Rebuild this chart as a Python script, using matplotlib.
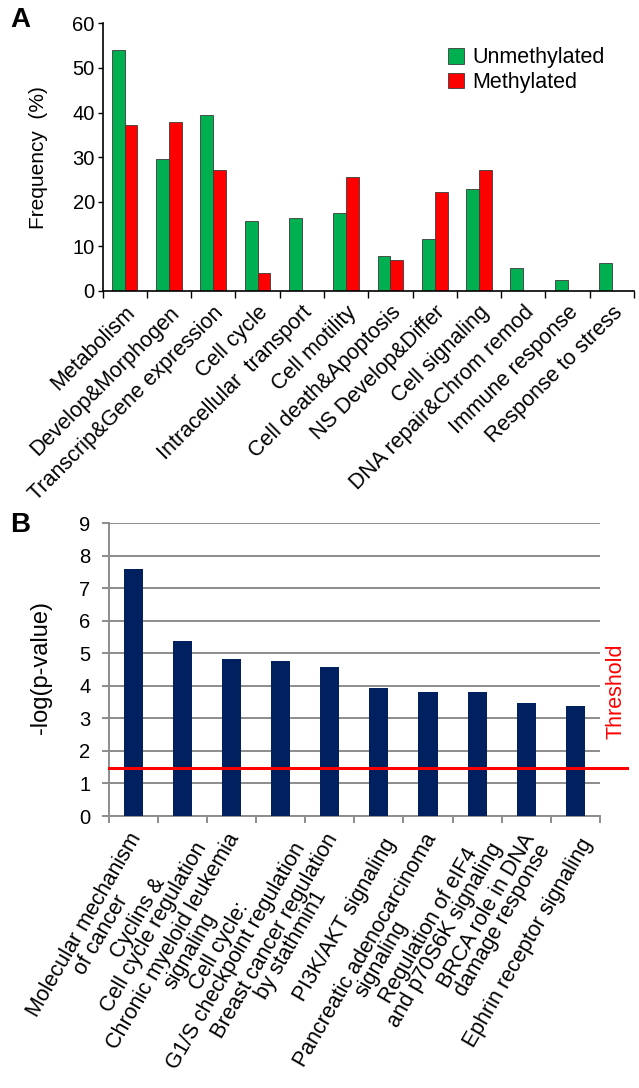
import numpy as np
import matplotlib
matplotlib.use("Agg")
import matplotlib.pyplot as plt
import matplotlib.transforms as mtransforms
from matplotlib.ticker import FixedLocator, NullFormatter

plt.rcParams['font.family'] = ['Liberation Sans', 'DejaVu Sans']

# Panel A data
go_terms = ['Metabolism', 'Develop&Morphogen', 'Transcrip&Gene expression', 'Cell cycle',
            'Intracellular  transport', 'Cell motility', 'Cell death&Apoptosis',
            'NS Develop&Differ', 'Cell signaling', 'DNA repair&Chrom remod',
            'Immune response', 'Response to stress']
unmethylated = [54.0, 29.5, 39.5, 15.8, 16.3, 17.5, 7.8, 11.6, 22.9, 5.2, 2.5, 6.2]
methylated = [37.1, 37.9, 27.1, 4.1, 0, 25.5, 7.0, 22.2, 27.1, 0, 0, 0]

# Panel B data
pathways = ['Molecular mechanism\nof cancer',
            'Cyclins &\nCell cycle regulation',
            'Chronic myeloid leukemia\nsignaling',
            'Cell cycle:\nG1/S checkpoint regulation',
            'Breast cancer regulation\nby stathmin1',
            'PI3K/AKT signaling',
            'Pancreatic adenocarcinoma\nsignaling',
            'Regulation of eIF4\nand p70S6K signaling',
            'BRCA role in DNA\ndamage response',
            'Ephrin receptor signaling']
neg_log_p = [7.61, 5.38, 4.82, 4.76, 4.58, 3.95, 3.81, 3.81, 3.46, 3.37]
threshold = 1.48

W, H = 639, 1088
fig = plt.figure(figsize=(W / 100, H / 100), dpi=100)

# ---------------- Panel A ----------------
axA = fig.add_axes([102.5 / W, 1 - 291 / H, 531.5 / W, 267.7 / H])
n = len(go_terms)
x = np.arange(n) + 0.5
bw = 0.29
green = '#00B050'
red = '#FF0000'
axA.bar(x - bw / 2, unmethylated, bw, color=green, edgecolor='#3a3a3a', linewidth=0.6,
        label='Unmethylated')
axA.bar(x + bw / 2, methylated, bw, color=red, edgecolor='#3a3a3a', linewidth=0.6,
        label='Methylated')
axA.set_xlim(0, n)
axA.set_ylim(0, 60)
axA.set_yticks(range(0, 61, 10))
axA.tick_params(axis='y', labelsize=14.5, length=3.5, width=1, direction='out', pad=2)
axA.xaxis.set_major_locator(FixedLocator(np.arange(n + 1)))
axA.xaxis.set_major_formatter(NullFormatter())
axA.xaxis.set_minor_locator(FixedLocator(x))
axA.set_xticklabels(go_terms, minor=True, rotation=45, ha='right', rotation_mode='anchor',
                    fontsize=15.5)
axA.tick_params(axis='x', which='major', length=5, width=1, direction='out')
axA.tick_params(axis='x', which='minor', length=0, pad=8)
for s in ['top', 'right']:
    axA.spines[s].set_visible(False)
for s in ['left', 'bottom']:
    axA.spines[s].set_linewidth(1.2)
axA.set_ylabel('Frequency  (%)', fontsize=15)
axA.yaxis.set_label_coords(-0.1025, 0.5)
axA.legend(loc='upper left', bbox_to_anchor=(0.650, 0.91), frameon=False, fontsize=15.5,
           handlelength=0.74, handleheight=0.74, handletextpad=0.4, labelspacing=0.16,
           borderpad=0, borderaxespad=0)
fig.text(10 / W, 1 - 20 / H, 'A', fontsize=20, fontweight='bold', va='center', ha='left')

# ---------------- Panel B ----------------
axB = fig.add_axes([108.6 / W, 1 - 816 / H, 491.4 / W, 292.7 / H])
m = len(pathways)
xb = np.arange(m) + 0.5
navy = '#002060'
grid_c = '#8c8c8c'
axB.bar(xb, neg_log_p, 0.39, color=navy, zorder=3)
axB.set_xlim(0, m)
axB.set_ylim(0, 9)
axB.set_yticks(range(0, 10))
axB.yaxis.grid(True, color=grid_c, linewidth=1.4, zorder=0)
axB.set_axisbelow(True)
axB.tick_params(axis='y', labelsize=14.5, length=5, width=1.4, color=grid_c, pad=8)
axB.xaxis.set_major_locator(FixedLocator(np.arange(m + 1)))
axB.xaxis.set_major_formatter(NullFormatter())
axB.xaxis.set_minor_locator(FixedLocator(xb))
axB.set_xticklabels(pathways, minor=True, rotation=60, ha='right', va='center',
                    rotation_mode='anchor', fontsize=15.5, multialignment='center',
                    linespacing=0.88)
axB.tick_params(axis='x', which='major', length=5, width=1.4, color=grid_c)
axB.tick_params(axis='x', which='minor', length=0, pad=17)
# nudge the rotated pathway labels to the right, like the Excel layout
shift = mtransforms.ScaledTranslation(12 / 100, 0, fig.dpi_scale_trans)
for lbl in axB.get_xticklabels(minor=True):
    lbl.set_transform(lbl.get_transform() + shift)
for s in ['top', 'right']:
    axB.spines[s].set_visible(False)
for s in ['left', 'bottom']:
    axB.spines[s].set_color(grid_c)
    axB.spines[s].set_linewidth(1.4)
axB.plot([0, 10.54], [threshold, threshold], color=red, linewidth=2.2, clip_on=False,
         zorder=4)
axB.text(10.33, 3.85, 'Threshold', color=red, rotation=90, fontsize=15.5, ha='center',
         va='center')
axB.set_ylabel('-log(p-value)', fontsize=17)
axB.yaxis.set_label_coords(-0.1146, 0.506)
fig.text(10 / W, 1 - 525 / H, 'B', fontsize=20, fontweight='bold', va='center', ha='left')

fig.savefig('out.png', dpi=100)
